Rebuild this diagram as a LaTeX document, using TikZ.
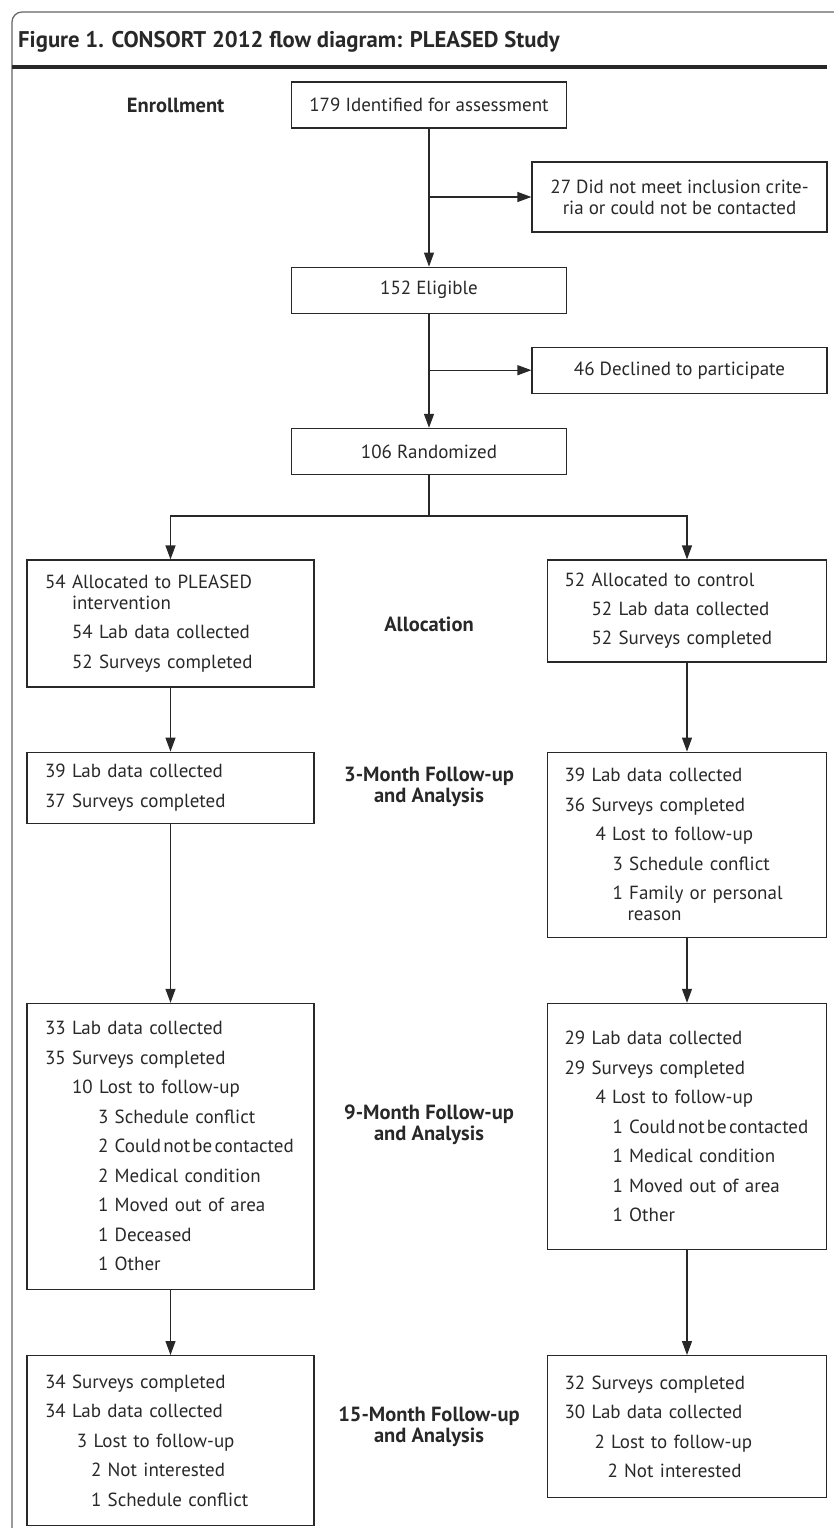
\documentclass[tikz,border=0pt]{standalone}
\usepackage{fontspec}
\setmainfont{PT Sans}
\usepackage{tikz}
\usetikzlibrary{arrows.meta,positioning}
\definecolor{ink}{RGB}{40,40,40}
\definecolor{framegray}{RGB}{100,100,100}
\newcommand{\indt}[1]{\hspace*{#1pt}}
\newcommand{\tightline}[1]{\mbox{\spaceskip=2.2pt\relax #1}}
\tikzstyle{box} = [rectangle, draw=ink, line width=1.2pt, text=ink, font=\fontsize{19}{21}\selectfont, inner sep=0pt]
\tikzstyle{onebox} = [box, minimum width=275pt, minimum height=46pt, align=center]
\tikzstyle{sidebox} = [box, minimum width=295pt, align=center]
\tikzstyle{armL} = [box, text width=251pt, inner xsep=18pt, align=left]
\tikzstyle{armR} = [box, text width=245pt, inner xsep=17pt, align=left]
\tikzstyle{phase} = [text=ink, font=\bfseries\fontsize{20.5}{21}\selectfont, align=center]
\tikzstyle{flow} = [draw=ink, line width=1.2pt, -{Triangle[length=14pt,width=10pt]}]
\tikzstyle{link} = [draw=ink, line width=1.2pt]

\begin{document}
\begin{tikzpicture}[x=1pt, y=-1pt]
\useasboundingbox (0,0) rectangle (834,1528);

% frame and title =============================
\draw[framegray, line width=1.2pt, rounded corners=10pt] (12,1540) -- (12,12) -- (850,12);
\node[anchor=west, inner sep=0pt, text=ink, font=\bfseries\fontsize{22.7}{24}\selectfont] (title) at (18,42) {Figure 1. CONSORT 2012 flow diagram: PLEASED Study};
\draw[ink, line width=4pt] (12,67) -- (827,67);

% enrollment
\node[onebox] (ident) at (429,105) {179 Identified for assessment};
\node[phase, left=63pt of ident] (enrol) {Enrollment};
\node[sidebox, minimum height=70pt] (nomeet) at (679.5,197) {27 Did not meet inclusion crite-\\ria or could not be contacted};
\node[onebox, below=138pt of ident] (elig) {152 Eligible};
\node[sidebox, minimum height=46pt, below=114pt of nomeet] (decl) {46 Declined to participate};
\node[onebox, below=114pt of elig] (rand) {106 Randomized};
\coordinate[below=41pt of rand] (split);

% allocation
\node[armL, minimum height=127pt] (armP) at (170.5,623.5) {54 Allocated to PLEASED\\
\indt{27}intervention\\[8.5pt]
\indt{27}54 Lab data collected\\[8.5pt]
\indt{27}52 Surveys completed};
\node[armR, minimum height=102pt] (armC) at (687,611) {52 Allocated to control\\[8pt]
\indt{27}52 Lab data collected\\[8pt]
\indt{27}52 Surveys completed};
\node[phase] (alloc) at (429,624) {Allocation};

% 3 months
\node[armL, minimum height=71pt, below=64pt of armP] (m3P) {39 Lab data collected\\[8.5pt]
37 Surveys completed};
\node[armR, minimum height=185pt, below=89pt of armC] (m3C) {39 Lab data collected\\[8.5pt]
36 Surveys completed\\[8.5pt]
\indt{31}4 Lost to follow-up\\[8.5pt]
\indt{48}3 Schedule conflict\\[8.5pt]
\indt{48}1 Family or personal\\
\indt{63}reason};
\node[phase] (lab3) at (429,787) {3-Month Follow-up\\and Analysis};

% 9 months
\node[armL, minimum height=286pt, below=179pt of m3P] (m9P) {33 Lab data collected\\[8.5pt]
35 Surveys completed\\[8.5pt]
\indt{27}10 Lost to follow-up\\[8.5pt]
\indt{53}3 Schedule conflict\\[8.5pt]
\indt{53}2 \tightline{Could not be contacted}\\[8.5pt]
\indt{53}2 Medical condition\\[8.5pt]
\indt{53}1 Moved out of area\\[8.5pt]
\indt{53}1 Deceased\\[8.5pt]
\indt{53}1 Other};
\node[armR, minimum height=246pt, below=65pt of m3C] (m9C) {29 Lab data collected\\[8.5pt]
29 Surveys completed\\[8.5pt]
\indt{31}4 Lost to follow-up\\[8.5pt]
\indt{48}1 \tightline{Could not be contacted}\\[8.5pt]
\indt{48}1 Medical condition\\[8.5pt]
\indt{48}1 Moved out of area\\[8.5pt]
\indt{48}1 Other};
\node[phase] (lab9) at (429,1125) {9-Month Follow-up\\and Analysis};

% 15 months
\node[armL, minimum height=170pt, below=65pt of m9P] (m15P) {34 Surveys completed\\[8.5pt]
34 Lab data collected\\[8.5pt]
\indt{32}3 Lost to follow-up\\[8.5pt]
\indt{46}2 Not interested\\[8.5pt]
\indt{46}1 Schedule conflict};
\node[armR, minimum height=142pt, below=105pt of m9C] (m15C) {32 Surveys completed\\[8.5pt]
30 Lab data collected\\[8.5pt]
\indt{30}2 Lost to follow-up\\[8.5pt]
\indt{43}2 Not interested};
\node[phase] (lab15) at (429,1427) {15-Month Follow-up\\and Analysis};

%edges
\path[flow] (ident) -- (elig);
\coordinate (cut1) at (ident.south |- nomeet.west);
\path[flow] (cut1) -- (nomeet);
\path[flow] (elig) -- (rand);
\coordinate (cut2) at (elig.south |- decl.west);
\path[flow] (cut2) -- (decl);
\path[link] (rand) -- (split);
\path[flow] (split) -| (armP);
\path[flow] (split) -| (armC);

\path[flow] (armP) -- (m3P);
\path[flow] (armC) -- (m3C);
\path[flow] (m3P) -- (m9P);
\path[flow] (m3C) -- (m9C);
\path[flow] (m9P) -- (m15P);
\path[flow] (m9C) -- (m15C);

\end{tikzpicture}
\end{document}
